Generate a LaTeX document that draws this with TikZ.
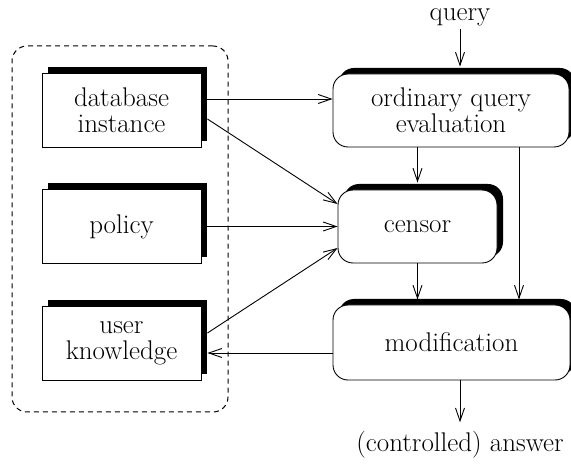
\documentclass[tikz,border=0pt]{standalone}
\usepackage{fontspec}
\usetikzlibrary{arrows.meta,shadows,calc}
\begin{document}
\begin{tikzpicture}[x=1pt,y=-1pt,
  txt/.style={font=\fontsize{27}{26}\selectfont, inner sep=0pt},
  sqbox/.style={txt, draw, fill=white, line width=0.9pt, minimum width=159pt, minimum height=74pt, align=center, inner sep=0pt,
    general shadow={fill=black, shadow xshift=6pt, shadow yshift=6pt}},
  rbox/.style={sqbox, rounded corners=15pt},
  conn/.style={line width=0.9pt, -{Straight Barb[length=13pt,width=9pt]}},
  grpbox/.style={draw, dash pattern=on 5pt off 4pt, rounded corners=15pt, line width=1pt, minimum width=216pt, minimum height=366pt, inner sep=0pt},
]
\useasboundingbox (0,0) rectangle (571,465);
\node[grpbox] (grp) at (120,229) {};
\node[sqbox] (db) at (121.5,110) {database\\instance};
\node[sqbox] (policy) at (121.5,226.5) {policy};
\node[sqbox] (user) at (121.5,343) {user\\knowledge};
\node[rbox, minimum width=236pt, minimum height=73pt] (ord) at (451,110.5) {ordinary query\\evaluation};
\node[rbox, minimum width=159pt, minimum height=73pt] (censor) at (417.5,226.5) {censor};
\node[rbox, minimum width=237pt, minimum height=75pt] (mod) at (451.5,342.5) {modification};
\node[txt] (query) at (460,17.5) {query};
\node[txt] (answer) at (460,445) {(controlled) answer};

\draw[conn] ($(query.south)+(0,3)$) -- ($(ord.north -| query)+(0,-7)$);
\draw[conn] (ord.south -| censor) -- ($(censor.north)+(0,-7)$);
\draw[conn] ($(ord.south)+(68,0)$) -- ($(mod.north)+(67.5,-5)$);
\draw[conn] (censor) -- ($(mod.north -| censor)+(0,-5)$);
\draw[conn] (mod.south -| answer) -- ($(answer.north)+(0,-9)$);

\coordinate (a1) at ($(db.east)+(6,-11)$);
\draw[conn] (a1) -- (a1 -| ord.west);
\draw[conn] ($(db.east)+(6,9)$) -- ($(censor.west)+(0,-22.5)$);
\draw[conn] ($(policy.east)+(6,0)$) -- (censor.west);
\draw[conn] ($(user.east)+(6,-10)$) -- ($(censor.west)+(0,21.5)$);
\coordinate (m1) at ($(mod.west)+(0,10.5)$);
\draw[conn] (m1) -- ($(m1 -| user.east)+(6,0)$);
\end{tikzpicture}
\end{document}
